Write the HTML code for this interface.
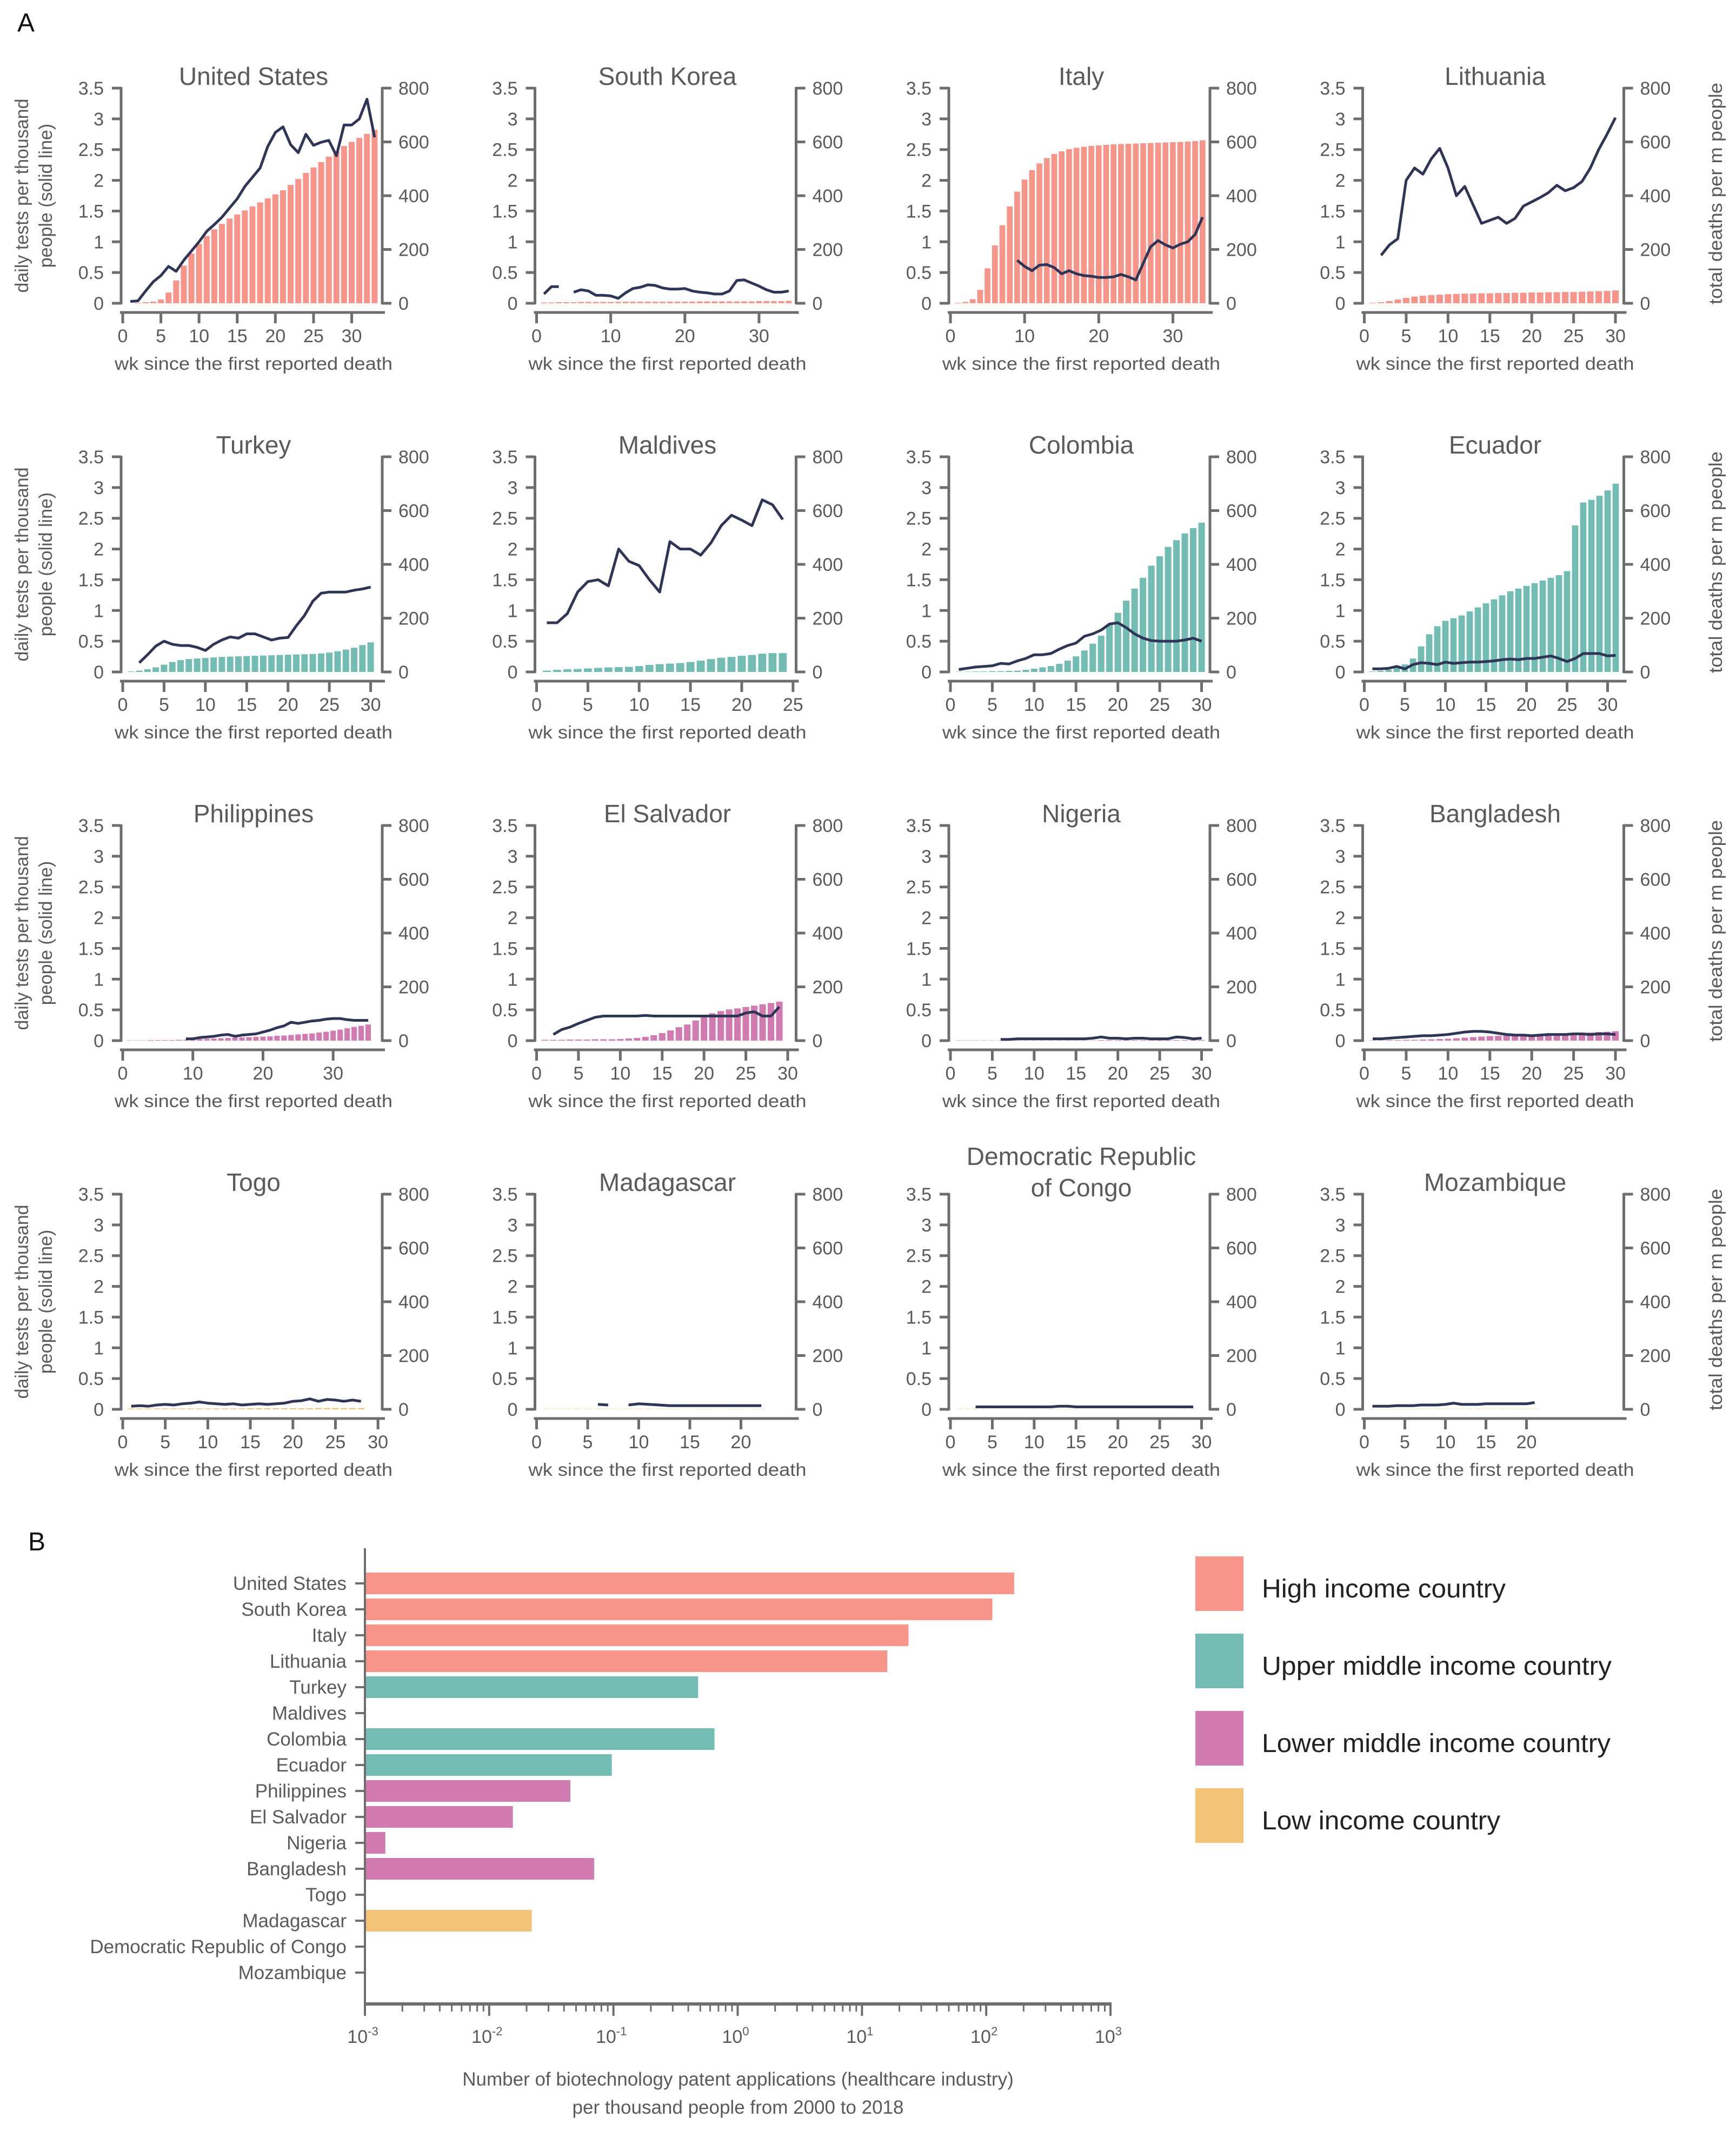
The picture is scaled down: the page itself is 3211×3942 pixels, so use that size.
<!DOCTYPE html>
<html><head><meta charset="utf-8"><style>
html,body{margin:0;padding:0;background:#fff;}
svg{display:block;font-family:"Liberation Sans",sans-serif;}
</style></head><body>
<svg id="fig" width="3211" height="3942" viewBox="0 0 3211 3942" xmlns="http://www.w3.org/2000/svg">
<rect width="3211" height="3942" fill="#fff"/>
<text x="32" y="58" font-size="48" fill="#111">A</text>
<text x="52" y="2868" font-size="48" fill="#111">B</text>
<g id="panelA"></g>
<g id="panelB"></g>
</svg>
<script>
// ---------- Panel A data (bars: total deaths per m people; line: daily tests per thousand) ----------
const countries = ["United States","South Korea","Italy","Lithuania","Turkey","Maldives","Colombia","Ecuador","Philippines","El Salvador","Nigeria","Bangladesh","Togo","Madagascar","Democratic Republic|of Congo","Mozambique"];
const incomeGroup = ["high","high","high","high","upper","upper","upper","upper","lower","lower","lower","lower","low","low","low","low"];
const xMaxWeeks = [34,35,35,31,31.4,25.3,31,32,37,31,31,31,30.5,25.4,31,32];
const xTickLabels = [
 [0,5,10,15,20,25,30],[0,10,20,30],[0,10,20,30],[0,5,10,15,20,25,30],
 [0,5,10,15,20,25,30],[0,5,10,15,20,25],[0,5,10,15,20,25,30],[0,5,10,15,20,25,30],
 [0,10,20,30],[0,5,10,15,20,25,30],[0,5,10,15,20,25,30],[0,5,10,15,20,25,30],
 [0,5,10,15,20,25,30],[0,5,10,15,20],[0,5,10,15,20,25,30],[0,5,10,15,20]];
const leftTicks = [0,0.5,1,1.5,2,2.5,3,3.5];
const rightTicks = [0,200,400,600,800];

const usBars = [0,2,4,6,14,40,85,140,185,220,250,275,295,315,330,345,360,375,390,405,420,440,462,485,505,525,545,565,585,600,615,630,645];
const usLine = [0.03,0.04,0.2,0.35,0.45,0.6,0.52,0.7,0.85,1.0,1.17,1.28,1.4,1.55,1.7,1.9,2.05,2.2,2.55,2.78,2.87,2.58,2.45,2.75,2.57,2.62,2.65,2.4,2.9,2.9,3.0,3.32,2.7];
const krBars = [3,3,4,4,4,5,5,5,5,5,5,6,6,6,6,6,6,6,6,6,6,7,7,7,7,7,7,7,7,8,8,8,8,9];
const krLine = [0.15,0.27,0.27,null,0.18,0.22,0.2,0.13,0.13,0.12,0.08,0.17,0.24,0.26,0.3,0.29,0.25,0.23,0.23,0.24,0.2,0.18,0.17,0.15,0.15,0.2,0.37,0.38,0.33,0.28,0.22,0.18,0.18,0.2];
const itBars = [2,5,15,50,130,215,290,360,415,460,495,520,540,555,565,573,578,582,585,587,589,591,592,593,594,595,596,597,598,599,600,601,603,606];
const itLine = [null,null,null,null,null,null,null,null,0.7,0.6,0.53,0.62,0.63,0.58,0.48,0.53,0.48,0.45,0.44,0.42,0.42,0.43,0.47,0.43,0.38,0.65,0.92,1.02,0.95,0.9,0.96,1.0,1.12,1.4];
const ltBars = [2,4,8,14,20,25,28,30,32,34,35,36,36,37,37,38,38,39,39,40,40,41,41,42,42,43,44,45,46,48];
const ltLine = [null,0.78,0.95,1.05,2.0,2.2,2.1,2.35,2.52,2.2,1.75,1.9,1.6,1.3,1.35,1.4,1.3,1.38,1.58,1.65,1.72,1.8,1.92,1.83,1.88,1.98,2.2,2.5,2.75,3.02];
const trBars = [2,5,10,17,27,37,44,48,50,52,54,56,57,58,59,60,61,62,63,64,65,66,67,69,72,77,83,90,100,110];
const trLine = [null,0.15,0.28,0.42,0.5,0.45,0.43,0.43,0.4,0.35,0.45,0.52,0.57,0.55,0.62,0.62,0.57,0.52,0.55,0.56,0.75,0.92,1.15,1.28,1.3,1.3,1.3,1.33,1.35,1.38];
const mvBars = [5,8,10,11,13,15,17,18,19,22,26,29,31,33,37,42,48,53,56,60,63,68,70,70];
const mvLine = [0.8,0.8,0.95,1.3,1.47,1.5,1.4,2.0,1.8,1.73,1.5,1.3,2.12,2.0,2.0,1.9,2.1,2.38,2.55,2.47,2.38,2.8,2.72,2.48];
const coBars = [1,1,2,2,3,3,4,5,8,12,17,22,30,42,58,80,105,135,175,220,265,310,350,395,430,465,490,515,535,555];
const coLine = [0.04,0.06,0.08,0.09,0.1,0.14,0.13,0.18,0.22,0.28,0.28,0.3,0.37,0.43,0.47,0.58,0.62,0.68,0.78,0.8,0.72,0.62,0.55,0.51,0.5,0.5,0.5,0.52,0.55,0.5];
const ecBars = [2,4,8,15,28,50,95,140,170,190,200,210,225,240,255,270,285,300,310,320,330,340,350,360,375,545,630,640,655,675,700];
const ecLine = [0.05,0.05,0.06,0.09,0.05,0.12,0.15,0.14,0.12,0.16,0.14,0.15,0.16,0.16,0.17,0.18,0.2,0.21,0.2,0.22,0.22,0.24,0.26,0.22,0.17,0.22,0.3,0.3,0.3,0.26,0.27];
const phBars = [1,1,1,2,2,2,2,3,3,5,6,7,8,9,10,11,12,13,14,15,16,18,19,21,23,25,27,30,33,37,41,46,51,55,60];
const phLine = [null,null,null,null,null,null,null,null,0.03,0.03,0.05,0.06,0.07,0.09,0.1,0.07,0.09,0.1,0.11,0.14,0.17,0.21,0.24,0.3,0.28,0.3,0.32,0.33,0.35,0.36,0.36,0.34,0.33,0.33,0.33];
const svBars = [3,3,3,4,4,4,5,5,5,6,8,10,14,20,28,38,50,60,75,90,102,110,116,120,125,130,135,140,145];
const svLine = [null,0.1,0.18,0.22,0.28,0.33,0.38,0.4,0.4,0.4,0.4,0.4,0.41,0.4,0.4,0.4,0.4,0.4,0.4,0.4,0.4,0.4,0.4,0.4,0.45,0.47,0.4,0.4,0.55];
const ngBars = [1,1,1,1,1,1,1,1,1,1,1,1,1,1,1,1,1,2,2,2,2,2,2,2,2,2,2,2,2,2];
const ngLine = [null,null,null,null,null,0.02,0.02,0.03,0.03,0.03,0.03,0.03,0.03,0.03,0.03,0.03,0.04,0.06,0.04,0.04,0.03,0.04,0.04,0.03,0.03,0.03,0.06,0.05,0.03,0.04];
const bdBars = [1,1,2,2,3,3,4,5,6,7,9,11,13,15,17,18,19,20,21,22,23,24,25,26,27,28,30,32,33,35];
const bdLine = [0.03,0.03,0.04,0.05,0.06,0.07,0.08,0.08,0.09,0.1,0.12,0.14,0.15,0.15,0.14,0.12,0.1,0.09,0.09,0.08,0.09,0.1,0.1,0.1,0.11,0.11,0.1,0.11,0.11,0.1];
const tgBars = [3,3,3,3,3,3,3,3,3,3,3,3,3,3,4,4,4,4,4,4,4,4,5,5,5,5,5,5];
const tgLine = [0.05,0.06,0.05,0.07,0.08,0.07,0.09,0.1,0.12,0.1,0.09,0.08,0.09,0.07,0.08,0.09,0.08,0.09,0.1,0.13,0.14,0.17,0.13,0.16,0.15,0.13,0.15,0.13];
const mgBars = [1,1,1,1,1,1,1,1,1,1,1,1,1,1,1,1,1,1,1,1,1,1];
const mgLine = [null,null,null,null,null,0.08,0.07,null,0.07,0.09,0.08,0.07,0.06,0.06,0.06,0.06,0.06,0.06,0.06,0.06,0.06,0.06];
const cdBars = [1,1,1,1,1,1,1,1,1,1,1,1,1,1,1,1,1,1,1,1,1,1,1,1,1,1,1,1,1];
const cdLine = [null,null,0.04,0.04,0.04,0.04,0.04,0.04,0.04,0.04,0.04,0.04,0.05,0.05,0.04,0.04,0.04,0.04,0.04,0.04,0.04,0.04,0.04,0.04,0.04,0.04,0.04,0.04,0.04];
const mzBars = [1,1,1,1,1,1,1,1,1,1,1,1,1,1,1,1,1,1,1,1,1];
const mzLine = [0.05,0.05,0.05,0.06,0.06,0.06,0.07,0.07,0.07,0.08,0.1,0.08,0.08,0.08,0.09,0.09,0.09,0.09,0.09,0.09,0.11];

const barSeries = [usBars,krBars,itBars,ltBars,trBars,mvBars,coBars,ecBars,phBars,svBars,ngBars,bdBars,tgBars,mgBars,cdBars,mzBars];
const lineSeries = [usLine,krLine,itLine,ltLine,trLine,mvLine,coLine,ecLine,phLine,svLine,ngLine,bdLine,tgLine,mgLine,cdLine,mzLine];

// ---------- Panel B data ----------
const patentCountries = ["United States","South Korea","Italy","Lithuania","Turkey","Maldives","Colombia","Ecuador","Philippines","El Salvador","Nigeria","Bangladesh","Togo","Madagascar","Democratic Republic of Congo","Mozambique"];
const patentValues = [168,112,23.7,16,0.48,null,0.65,0.097,0.045,0.0155,0.00146,0.07,null,0.022,null,null];
const patentGroup = ["high","high","high","high","upper","upper","upper","upper","lower","lower","lower","lower","low","low","low","low"];
const logTickExps = [-3,-2,-1,0,1,2,3];
const legendLabels = ["High income country","Upper middle income country","Lower middle income country","Low income country"];
const legendGroups = ["high","upper","lower","low"];
const legendTextWidths = [451,647,645,441];

const colors = {high:"#f8958a", upper:"#72bcb4", lower:"#d27bb1", low:"#f3c477"};
const NS = "http://www.w3.org/2000/svg";
const AX = "#6e6e6e", TXT = "#5a5a5a", LINE = "#2e3555";

function mk(tag, attrs, parent){
  const e = document.createElementNS(NS, tag);
  for (const k in attrs) e.setAttribute(k, attrs[k]);
  parent.appendChild(e);
  return e;
}

const pA = document.getElementById('panelA');
countries.forEach((name, i) => {
  const c = i % 4, r = Math.floor(i / 4);
  const x0 = 224 + 765.5 * c, yOff = 682 * r;
  const yTop = 163 + yOff, yBot = 561 + yOff, yAx = 578 + yOff;
  const g = mk('g', {}, pA);
  
  
  const xmax = xMaxWeeks[i];
  const xs = v => x0 + 3 + v * (480 / xmax);
  const yL = v => yBot - v / 3.5 * (yBot - yTop);
  const yR = v => yBot - v / 800 * (yBot - yTop);
  const step = 480 / xmax;
  barSeries[i].forEach((v, k) => {
    const wk = k + 1;
    const b = mk('rect', {x: xs(wk) - step * 0.39, y: yR(v), width: step * 0.78, height: Math.max(0, yBot - yR(v)), fill: colors[incomeGroup[i]]}, g);
    
    
  });
  let d = '', pen = false;
  lineSeries[i].forEach((v, k) => {
    if (v === null) { pen = false; return; }
    d += (pen ? 'L' : 'M') + xs(k + 1).toFixed(1) + ' ' + yL(v).toFixed(1) + ' ';
    pen = true;
  });
  const ln = mk('path', {d: d, fill: 'none', stroke: LINE, 'stroke-width': 5, 'stroke-linejoin': 'round'}, g);
  
  
  const la = mk('g', {}, g);
  
  
  mk('line', {x1: x0, y1: yTop - 2, x2: x0, y2: yBot + 2, stroke: AX, 'stroke-width': 5}, la);
  leftTicks.forEach(t => {
    mk('line', {x1: x0 - 17, y1: yL(t), x2: x0, y2: yL(t), stroke: AX, 'stroke-width': 5}, la);
    const tx = mk('text', {x: x0 - 32, y: yL(t) + 12, 'font-size': 34, fill: TXT, 'text-anchor': 'end'}, la);
    tx.textContent = String(t);
  });
  const xr = x0 + 483;
  const ra = mk('g', {}, g);
  
  
  mk('line', {x1: xr, y1: yTop - 2, x2: xr, y2: yBot + 2, stroke: AX, 'stroke-width': 5}, ra);
  rightTicks.forEach(t => {
    mk('line', {x1: xr, y1: yR(t), x2: xr + 17, y2: yR(t), stroke: AX, 'stroke-width': 5}, ra);
    const tx = mk('text', {x: xr + 30, y: yR(t) + 12, 'font-size': 34, fill: TXT}, ra);
    tx.textContent = String(t);
  });
  const xa = mk('g', {}, g);
  
  
  mk('line', {x1: x0 - 2, y1: yAx, x2: x0 + 488, y2: yAx, stroke: AX, 'stroke-width': 5}, xa);
  xTickLabels[i].forEach(t => {
    mk('line', {x1: xs(t), y1: yAx, x2: xs(t), y2: yAx + 20, stroke: AX, 'stroke-width': 5}, xa);
    const tx = mk('text', {x: xs(t), y: yAx + 55, 'font-size': 34, fill: TXT, 'text-anchor': 'middle'}, xa);
    tx.textContent = String(t);
  });
  const xl = mk('text', {x: x0 + 245, y: yOff + 684, 'font-size': 33, fill: TXT, 'text-anchor': 'middle', textLength: 514, lengthAdjust: 'spacingAndGlyphs'}, g);
  
  
  xl.textContent = 'wk since the first reported death';
  const parts = name.split('|');
  if (parts.length === 1) {
    const tt = mk('text', {x: x0 + 245, y: yOff + 157, 'font-size': 46, fill: TXT, 'text-anchor': 'middle'}, g);
    
    
    tt.textContent = name;
  } else {
    parts.forEach((p, k) => {
      const tt = mk('text', {x: x0 + 245, y: yOff + 167 + k * 58 - 58, 'font-size': 46, fill: TXT, 'text-anchor': 'middle'}, g);
      
      
      tt.textContent = p;
    });
  }
  if (c === 0) {
    ['daily tests per thousand', 'people (solid line)'].forEach((s, k) => {
      const cy = 362 + yOff, cx = 52 + k * 44;
      const yt = mk('text', {x: cx, y: cy, 'font-size': 34, fill: TXT, 'text-anchor': 'middle', transform: 'rotate(-90 ' + cx + ' ' + cy + ')'}, g);
      
      
      yt.textContent = s;
    });
  }
  if (c === 3) {
    const cy = 358 + yOff, cx = 3185;
    const yt = mk('text', {x: cx, y: cy, 'font-size': 34, fill: TXT, 'text-anchor': 'middle', transform: 'rotate(-90 ' + cx + ' ' + cy + ')', textLength: 410, lengthAdjust: 'spacingAndGlyphs'}, g);
    
    
    yt.textContent = 'total deaths per m people';
  }
});

// ---------- Panel B ----------
const pB = document.getElementById('panelB');
const bx0 = 675, bx1 = 2054, byTop = 2864, byAx = 3707;
const lx = v => bx0 + (Math.log10(v) + 3) / 6 * (bx1 - bx0);
const rowY = k => 2929 + k * 48;
patentCountries.forEach((n, k) => {
  const y = rowY(k);
  mk('line', {x1: bx0 - 18, y1: y, x2: bx0, y2: y, stroke: AX, 'stroke-width': 4}, pB);
  const t = mk('text', {x: bx0 - 34, y: y + 12, 'font-size': 35, fill: TXT, 'text-anchor': 'end'}, pB);
  
  
  t.textContent = n;
  const v = patentValues[k];
  if (v !== null) {
    const b = mk('rect', {x: bx0, y: y - 20, width: lx(v) - bx0, height: 40, fill: colors[patentGroup[k]]}, pB);
    
    
  }
});
mk('line', {x1: bx0, y1: byTop, x2: bx0, y2: byAx, stroke: AX, 'stroke-width': 4}, pB);
mk('line', {x1: bx0, y1: byAx, x2: bx1 + 2, y2: byAx, stroke: AX, 'stroke-width': 6}, pB);
logTickExps.forEach((e, k) => {
  const x = lx(Math.pow(10, e));
  mk('line', {x1: x, y1: byAx, x2: x, y2: byAx + 22, stroke: AX, 'stroke-width': 4}, pB);
  if (k < logTickExps.length - 1) {
    for (let m = 2; m <= 9; m++) {
      const xm = lx(m * Math.pow(10, e));
      mk('line', {x1: xm, y1: byAx, x2: xm, y2: byAx + 14, stroke: AX, 'stroke-width': 3}, pB);
    }
  }
  const t = mk('text', {x: x - 4, y: byAx + 72, 'font-size': 34, fill: TXT, 'text-anchor': 'middle'}, pB);
  
  
  t.textContent = '10';
  const s = mk('tspan', {dy: -14, 'font-size': 22}, t);
  s.textContent = String(e);
});
['Number of biotechnology patent applications (healthcare industry)', 'per thousand people from 2000 to 2018'].forEach((s, k) => {
  const t = mk('text', {x: 1365, y: 3858 + k * 52, 'font-size': 35, fill: TXT, 'text-anchor': 'middle'}, pB);
  
  
  t.textContent = s;
});
legendLabels.forEach((l, k) => {
  const y = 2879 + k * 143;
  const g = mk('g', {}, pB);
  
  
  mk('rect', {x: 2211, y: y, width: 89, height: 101, fill: colors[legendGroups[k]]}, g);
  const t = mk('text', {x: 2334, y: y + 76, 'font-size': 48, fill: '#222', textLength: legendTextWidths[k], lengthAdjust: 'spacingAndGlyphs'}, g);
  t.textContent = l;
});
</script>
</body></html>
